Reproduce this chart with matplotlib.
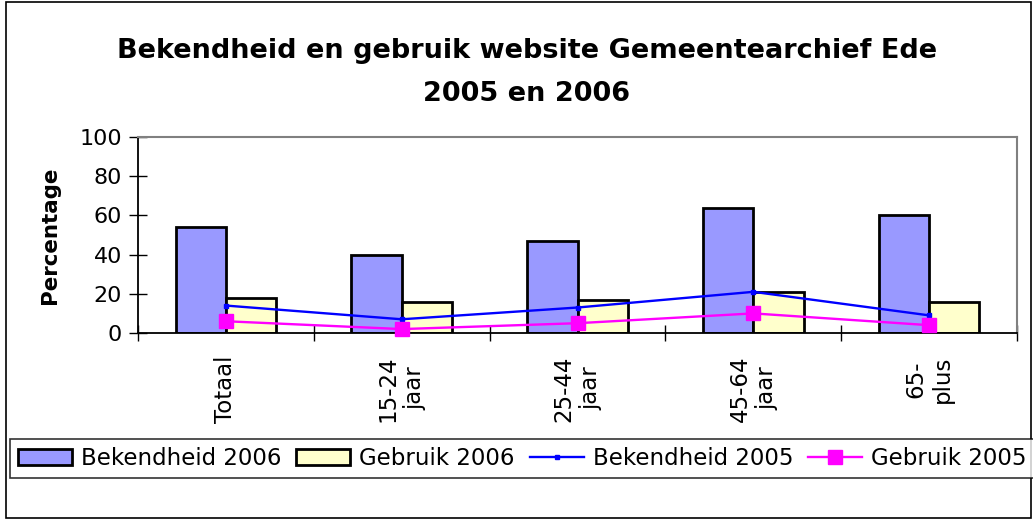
import matplotlib
matplotlib.use('Agg')
import matplotlib.pyplot as plt
import numpy as np
from matplotlib.patches import Rectangle

categories = ['Totaal', '15-24\njaar', '25-44\njaar', '45-64\njaar', '65-\nplus']
bekendheid_2006 = [54, 40, 47, 64, 60]
gebruik_2006 = [18, 16, 17, 21, 16]
bekendheid_2005 = [14, 7, 13, 21, 9]
gebruik_2005 = [6, 2, 5, 10, 4]

plt.rcParams['font.family'] = 'DejaVu Sans'

fig = plt.figure(figsize=(10.33, 5.19), dpi=100)
ax = fig.add_axes([138 / 1033, 1 - 333 / 519, 879 / 1033, 196 / 519])

x = np.arange(len(categories)) + 0.5
w = 0.286
b1 = ax.bar(x - w / 2, bekendheid_2006, w, color='#9999ff', edgecolor='black', linewidth=2,
            label='Bekendheid 2006', zorder=2)
b2 = ax.bar(x + w / 2, gebruik_2006, w, color='#ffffcc', edgecolor='black', linewidth=2,
            label='Gebruik 2006', zorder=2)
l1, = ax.plot(x, bekendheid_2005, '-s', color='#0000ff', lw=1.7, markersize=3.5,
              label='Bekendheid 2005', zorder=3, clip_on=False)
l2, = ax.plot(x, gebruik_2005, '-s', color='#ff00ff', lw=1.7, markersize=10,
              label='Gebruik 2005', zorder=3, clip_on=False)

ax.set_xlim(0, 5)
ax.set_ylim(0, 100)
ax.set_yticks(range(0, 101, 20))
ax.tick_params(axis='y', direction='inout', length=13, width=1, labelsize=16, pad=5)
ax.set_xticks(range(6))
ax.set_xticklabels([])
ax.set_xticks(x, minor=True)
ax.set_xticklabels(categories, minor=True, rotation=90, fontsize=16.5)
ax.tick_params(axis='x', which='major', direction='inout', length=12, width=1)
ax.tick_params(axis='x', which='minor', length=0, pad=16)

for s in ['left', 'bottom']:
    ax.spines[s].set_color('black')
    ax.spines[s].set_linewidth(1.3)
for s in ['top', 'right']:
    ax.spines[s].set_color('#808080')
    ax.spines[s].set_linewidth(1.5)

ax.set_ylabel('Percentage', fontsize=15.4, fontweight='bold', labelpad=14)

fig.text(527 / 1033, 1 - 58 / 519, 'Bekendheid en gebruik website Gemeentearchief Ede',
         ha='center', va='baseline', fontsize=19.5, fontweight='bold')
fig.text(527 / 1033, 1 - 101 / 519, '2005 en 2006',
         ha='center', va='baseline', fontsize=19.5, fontweight='bold')

leg = fig.legend(handles=[b1, b2, l1, l2], loc='lower left', ncol=4,
                 bbox_to_anchor=(10 / 1033, 1 - 478 / 519), fontsize=16.5,
                 frameon=True, fancybox=False, borderpad=0.35, handlelength=2.35,
                 handletextpad=0.4, columnspacing=0.65, borderaxespad=0)
leg.get_frame().set_edgecolor('black')
leg.get_frame().set_linewidth(1.2)

fig.patches.append(Rectangle((6 / 1033, 1 / 519), 1025 / 1033, 516 / 519, transform=fig.transFigure,
                             fill=False, edgecolor='black', linewidth=1.2))

plt.savefig('out.png', dpi=100)
